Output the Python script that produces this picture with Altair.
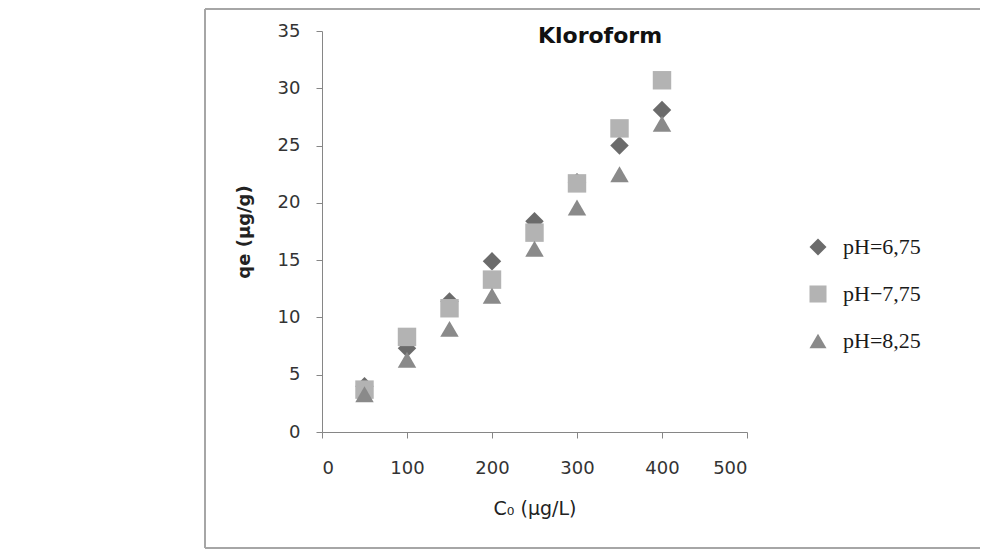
import altair as alt
import pandas as pd

# Data
c0 = [50, 100, 150, 200, 250, 300, 350, 400]
q_675 = [4.0, 7.3, 11.4, 14.9, 18.4, 21.8, 25.0, 28.1]
q_775 = [3.7, 8.3, 10.8, 13.3, 17.4, 21.7, 26.5, 30.7]
q_825 = [3.3, 6.3, 9.0, 11.9, 16.0, 19.6, 22.5, 26.9]
series = ["pH=6,75", "pH\u22127,75", "pH=8,25"]
shapes = ["diamond", "square", "triangle-up"]
colors = ["#6b6b6b", "#b3b3b3", "#8a8a8a"]
x_ticks = [0, 100, 200, 300, 400, 500]
y_ticks = [0, 5, 10, 15, 20, 25, 30, 35]

rows = []
for name, vals in zip(series, [q_675, q_775, q_825]):
    for x, y in zip(c0, vals):
        rows.append({"c0": x, "qe": y, "series": name})
df = pd.DataFrame(rows)
df["ord"] = df["series"].map({s: i for i, s in enumerate(series)})

W, H = 425, 401

points = alt.Chart(df).mark_point(filled=True, opacity=1, size=340).encode(
    x=alt.X("c0:Q", scale=alt.Scale(domain=[0, 500], nice=False),
            axis=alt.Axis(values=x_ticks, title="C\u2080 (\u00b5g/L)", labelPadding=21,
                          titlePadding=22, titleFontWeight="normal", titleFontSize=19)),
    y=alt.Y("qe:Q", scale=alt.Scale(domain=[0, 35], nice=False),
            axis=alt.Axis(values=y_ticks, title="qe (\u00b5g/g)", labelPadding=16,
                          titlePadding=24, titleFontWeight="bold", titleFontSize=18)),
    color=alt.Color("series:N", scale=alt.Scale(domain=series, range=colors),
                    legend=alt.Legend(title=None, orient="none", legendX=485, legendY=205,
                                      labelFont="Liberation Serif", labelFontSize=22,
                                      labelColor="#1a1a1a", symbolSize=290, rowPadding=25,
                                      labelOffset=14, symbolStrokeWidth=0)),
    shape=alt.Shape("series:N", scale=alt.Scale(domain=series, range=shapes)),
    order=alt.Order("ord:Q"),
)

# outer chart-area frame (left, top and bottom edges; right edge lies off-page)
frame_df = pd.DataFrame({"k": [0]})
frame_style = dict(color="#a6a6a6", strokeWidth=2)
frame_left = alt.Chart(frame_df).mark_rule(**frame_style).encode(
    x=alt.value(-117), x2=alt.value(-117), y=alt.value(-22), y2=alt.value(517))
frame_top = alt.Chart(frame_df).mark_rule(**frame_style).encode(
    x=alt.value(-117), x2=alt.value(660), y=alt.value(-22), y2=alt.value(-22))
frame_bottom = alt.Chart(frame_df).mark_rule(**frame_style).encode(
    x=alt.value(-117), x2=alt.value(660), y=alt.value(517), y2=alt.value(517))

title = alt.Chart(pd.DataFrame({"t": ["Kloroform"]})).mark_text(
    font="DejaVu Sans", fontWeight="bold", fontSize=22, color="#111", baseline="middle"
).encode(x=alt.value(278), y=alt.value(5), text="t:N")

chart = alt.layer(frame_left, frame_top, frame_bottom, points, title).properties(
    width=W, height=H,
    autosize=alt.AutoSizeParams(type="none"),
    padding={"left": 314, "top": 23, "right": 233, "bottom": 117},
).configure_view(stroke=None).configure_axis(
    grid=False, domainColor="#868686", tickColor="#868686", tickSize=6,
    labelFont="DejaVu Sans", labelFontSize=18, labelColor="#333",
    titleFont="DejaVu Sans", titleColor="#222",
)

chart.save("out.html", embed_options={"renderer": "svg", "actions": False})
